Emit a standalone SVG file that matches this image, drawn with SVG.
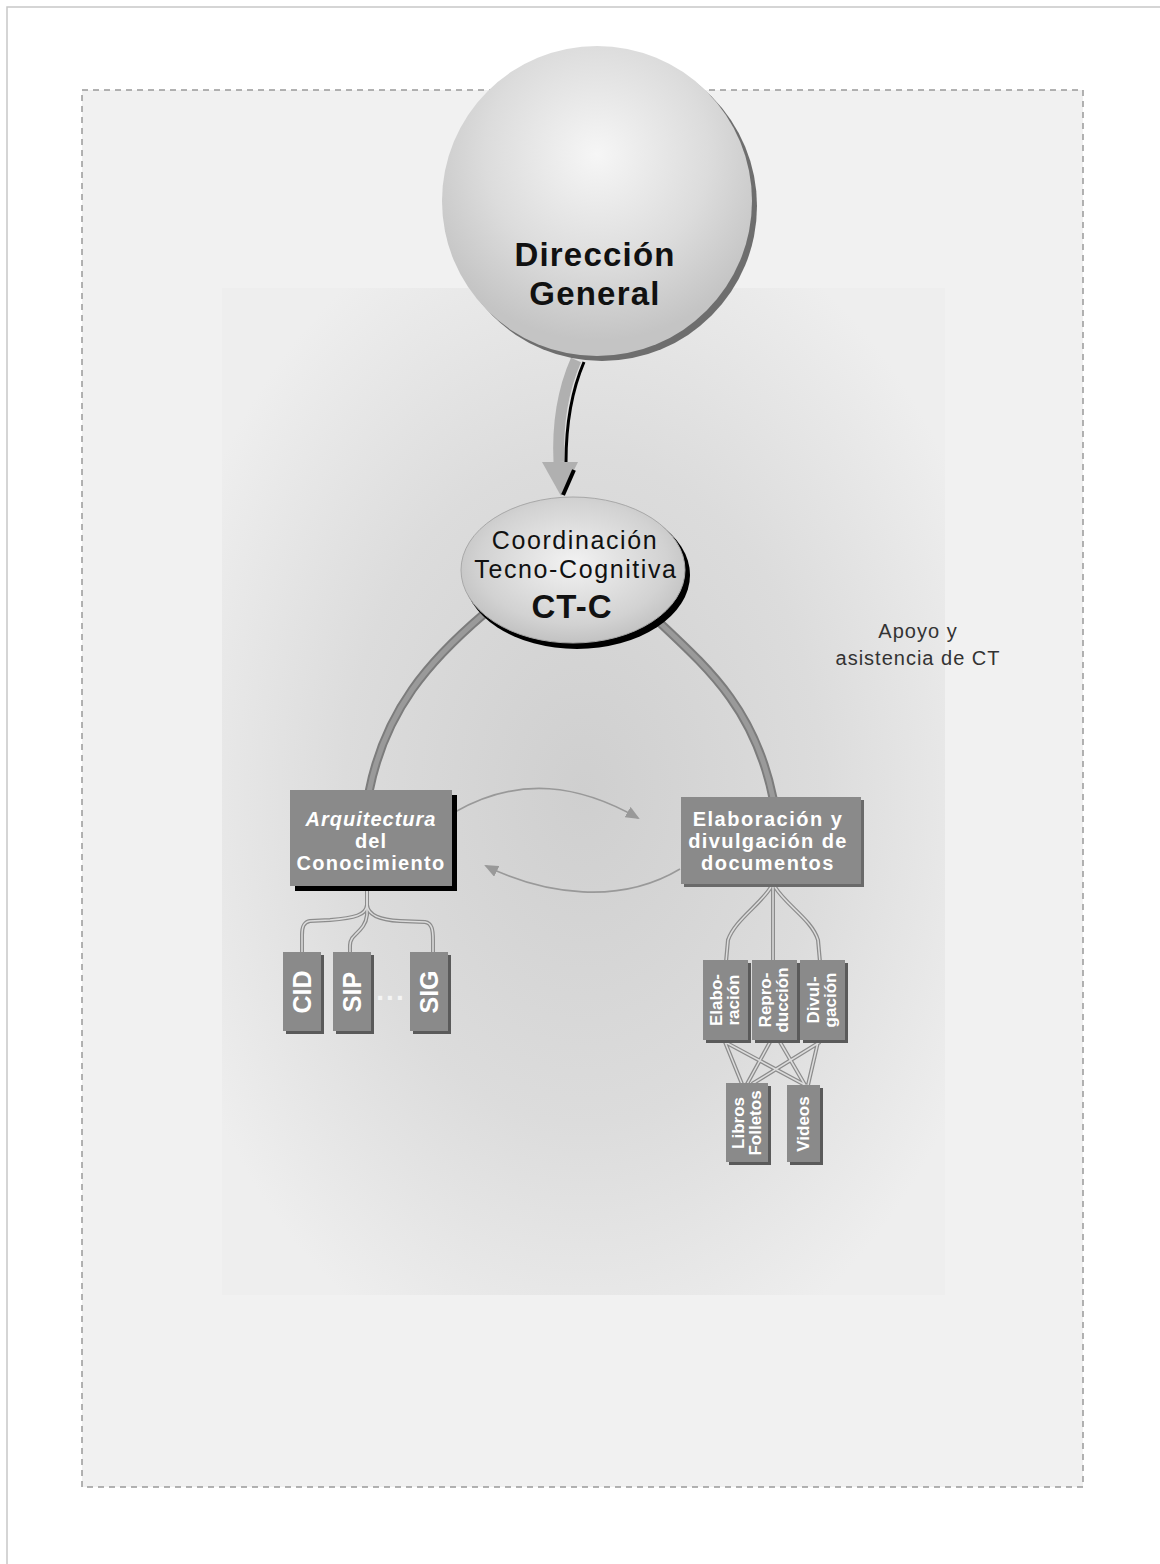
<svg xmlns="http://www.w3.org/2000/svg" width="1160" height="1564" viewBox="0 0 1160 1564">
<defs>
<radialGradient id="bg" cx="0.5" cy="0.5" r="0.6">
<stop offset="0" stop-color="#cfcfcf"/>
<stop offset="0.55" stop-color="#dcdcdc"/>
<stop offset="1" stop-color="#eeeeee"/>
</radialGradient>
<radialGradient id="sph" cx="0.5" cy="0.35" r="0.6">
<stop offset="0" stop-color="#f6f6f6"/>
<stop offset="0.6" stop-color="#dcdcdc"/>
<stop offset="1" stop-color="#c4c4c4"/>
</radialGradient>
<radialGradient id="ell" cx="0.5" cy="0.45" r="0.6">
<stop offset="0" stop-color="#f2f2f2"/>
<stop offset="0.7" stop-color="#d2d2d2"/>
<stop offset="1" stop-color="#bcbcbc"/>
</radialGradient>
<marker id="ah" markerWidth="14" markerHeight="12" refX="12" refY="6" orient="auto" markerUnits="userSpaceOnUse">
<path d="M0,0 L14,6 L0,12 Z" fill="#999"/>
</marker>
<style>
.lbl{font-family:"Liberation Sans",Arial,sans-serif;font-weight:bold;text-anchor:middle;fill:#111}
.wt{fill:#ffffff;font-family:"Liberation Sans",Arial,sans-serif;font-weight:bold;text-anchor:middle}
.box{fill:#8a8a8a}
.sh{fill:#5a5a5a}
.thin{fill:none;stroke:#999;stroke-width:1.6}
.dbl{fill:none;stroke:#8c8c8c;stroke-width:4}
.dbl2{fill:none;stroke:#dcdcdc;stroke-width:1.5}
</style>
</defs>
<rect x="7" y="7" width="1160" height="1560" fill="#ffffff" stroke="#c8c8c8" stroke-width="1.5"/>
<rect x="82" y="90" width="1001" height="1397" fill="#f1f1f1" stroke="#999" stroke-width="1.5" stroke-dasharray="6,5"/>
<rect x="222" y="288" width="723" height="1007" fill="url(#bg)"/>

<g id="connectors">
<path d="M576,360 C565,385 557,420 559,462" fill="none" stroke="#b0b0b0" stroke-width="11"/>
<path d="M584,362 C572,390 566,425 566,462" fill="none" stroke="#000" stroke-width="3"/>
<path d="M542,462 L578,462 L561,496 Z" fill="#b0b0b0"/>
<path d="M574,470 L563,495" fill="none" stroke="#000" stroke-width="4"/>
<path d="M484,614 C430,660 385,710 369,792" fill="none" stroke="#7c7c7c" stroke-width="9"/>
<path d="M484,614 C430,660 385,710 369,792" fill="none" stroke="#9a9a9a" stroke-width="5"/>
<path d="M659,622 C710,670 755,710 773,798" fill="none" stroke="#7c7c7c" stroke-width="9"/>
<path d="M659,622 C710,670 755,710 773,798" fill="none" stroke="#9a9a9a" stroke-width="5"/>
<path class="thin" d="M455,812 C520,775 580,785 638,818" marker-end="url(#ah)"/>
<path class="thin" d="M680,869 C620,905 545,895 486,866" marker-end="url(#ah)"/>
<g>
<path class="dbl" d="M367,888 L367,905 C366,915 355,918 330,920 L310,921 C303,922 302,928 302,935 L302,952"/>
<path class="dbl" d="M367,888 L367,915 C366,925 360,930 355,935 C349,940 350,945 350,952"/>
<path class="dbl" d="M367,888 L367,905 C368,915 380,920 400,921 L425,922 C432,923 433,930 433,940 L433,952"/>
<path class="dbl2" d="M367,888 L367,905 C366,915 355,918 330,920 L310,921 C303,922 302,928 302,935 L302,952"/>
<path class="dbl2" d="M367,888 L367,915 C366,925 360,930 355,935 C349,940 350,945 350,952"/>
<path class="dbl2" d="M367,888 L367,905 C368,915 380,920 400,921 L425,922 C432,923 433,930 433,940 L433,952"/>
</g>
<g>
<path class="dbl" d="M771,887 C760,905 735,920 728,940 L726,962"/>
<path class="dbl" d="M773,887 L773,962"/>
<path class="dbl" d="M775,887 C786,905 812,920 818,940 L820,962"/>
<path class="dbl2" d="M771,887 C760,905 735,920 728,940 L726,962"/>
<path class="dbl2" d="M773,887 L773,962"/>
<path class="dbl2" d="M775,887 C786,905 812,920 818,940 L820,962"/>
<path class="dbl" d="M725,1042 L742,1084 M725,1042 L805,1085 M770,1042 L747,1084 M780,1042 L805,1085 M820,1042 L752,1084 M818,1042 L808,1085"/>
<path class="dbl2" d="M725,1042 L742,1084 M725,1042 L805,1085 M770,1042 L747,1084 M780,1042 L805,1085 M820,1042 L752,1084 M818,1042 L808,1085"/>
</g>
</g>

<g id="direccion-general">
<circle cx="602" cy="206" r="155" fill="#6e6e6e"/>
<circle cx="597" cy="201" r="155" fill="url(#sph)"/>
<text class="lbl" x="595" y="266" font-size="33" letter-spacing="1.2">Dirección</text>
<text class="lbl" x="595" y="305" font-size="33" letter-spacing="1.2">General</text>
</g>

<g id="ctc">
<ellipse cx="577" cy="575" rx="113" ry="74" fill="#000"/>
<ellipse cx="573" cy="570" rx="112" ry="73" fill="url(#ell)" stroke="#a8a8a8" stroke-width="1"/>
<text class="lbl" x="575" y="549" font-size="25" letter-spacing="1.6" style="font-weight:normal">Coordinación</text>
<text class="lbl" x="576" y="578" font-size="25" letter-spacing="1.6" style="font-weight:normal">Tecno-Cognitiva</text>
<text class="lbl" x="572" y="618" font-size="33" letter-spacing="1">CT-C</text>
</g>

<g id="arquitectura">
<rect x="295" y="795" width="162" height="96" fill="#000"/>
<rect x="290" y="790" width="162" height="96" class="box"/>
<text class="wt" x="371" y="826" font-size="20" font-style="italic" letter-spacing="1">Arquitectura</text>
<text class="wt" x="371" y="848" font-size="20" letter-spacing="1">del</text>
<text class="wt" x="371" y="870" font-size="20" letter-spacing="1.3">Conocimiento</text>
</g>

<g id="elaboracion">
<rect x="684" y="800" width="180" height="87" fill="#6a6a6a"/>
<rect x="681" y="797" width="180" height="87" class="box"/>
<text class="wt" x="768" y="826" font-size="20" letter-spacing="1.5">Elaboración y</text>
<text class="wt" x="768" y="848" font-size="20" letter-spacing="1.4">divulgación de</text>
<text class="wt" x="768" y="870" font-size="20" letter-spacing="1.5">documentos</text>
</g>

<g id="cid">
<rect x="286" y="955" width="38" height="79" class="sh"/>
<rect x="283" y="952" width="38" height="79" class="box"/>
<text class="wt" transform="translate(311,992) rotate(-90)" font-size="25">CID</text>
</g>
<g id="sip">
<rect x="336" y="955" width="38" height="79" class="sh"/>
<rect x="333" y="952" width="38" height="79" class="box"/>
<text class="wt" transform="translate(361,992) rotate(-90)" font-size="25">SIP</text>
</g>
<g id="dots">
<text class="wt" x="391" y="1000" font-size="28" letter-spacing="2" style="fill:#f4f4f4">...</text>
</g>
<g id="sig">
<rect x="413" y="955" width="38" height="79" class="sh"/>
<rect x="410" y="952" width="38" height="79" class="box"/>
<text class="wt" transform="translate(438,992) rotate(-90)" font-size="25">SIG</text>
</g>

<g id="elabo">
<rect x="706" y="963" width="45" height="80" class="sh"/>
<rect x="703" y="960" width="45" height="80" class="box"/>
<text class="wt" transform="translate(722,1000) rotate(-90)" font-size="17">Elabo-</text>
<text class="wt" transform="translate(739,1000) rotate(-90)" font-size="17">ración</text>
</g>
<g id="repro">
<rect x="755" y="963" width="45" height="80" class="sh"/>
<rect x="752" y="960" width="45" height="80" class="box"/>
<text class="wt" transform="translate(771,1000) rotate(-90)" font-size="17">Repro-</text>
<text class="wt" transform="translate(788,1000) rotate(-90)" font-size="17">ducción</text>
</g>
<g id="divul">
<rect x="803" y="963" width="45" height="80" class="sh"/>
<rect x="800" y="960" width="45" height="80" class="box"/>
<text class="wt" transform="translate(819,1000) rotate(-90)" font-size="17">Divul-</text>
<text class="wt" transform="translate(836,1000) rotate(-90)" font-size="17">gación</text>
</g>

<g id="libros">
<rect x="729" y="1086" width="42" height="79" class="sh"/>
<rect x="726" y="1083" width="42" height="79" class="box"/>
<text class="wt" transform="translate(744,1123) rotate(-90)" font-size="17">Libros</text>
<text class="wt" transform="translate(761,1123) rotate(-90)" font-size="17">Folletos</text>
</g>
<g id="videos">
<rect x="790" y="1088" width="33" height="77" class="sh"/>
<rect x="787" y="1085" width="33" height="77" class="box"/>
<text class="wt" transform="translate(809,1124) rotate(-90)" font-size="17">Videos</text>
</g>

<g id="apoyo">
<text x="918" y="638" font-family="Liberation Sans, Arial, sans-serif" font-size="20" letter-spacing="1" fill="#333" text-anchor="middle">Apoyo y</text>
<text x="918" y="665" font-family="Liberation Sans, Arial, sans-serif" font-size="20" letter-spacing="1" fill="#333" text-anchor="middle">asistencia de CT</text>
</g>
</svg>
